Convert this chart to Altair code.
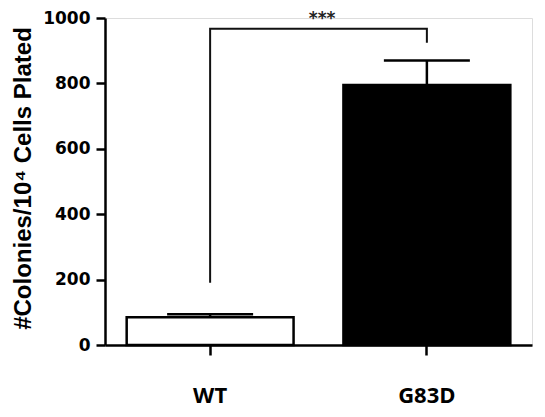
import altair as alt
import pandas as pd

groups = ["WT", "G83D"]
means = [85, 795]
sems = [9, 75]
bar_fill = ["#ffffff", "#000000"]

bracket_groups = ["WT", "WT", "G83D", "G83D"]
bracket_values = [190, 967, 967, 924]
bracket_order = [0, 1, 2, 3]
sig_label = "***"
sig_value = 982

y_ticks = [0, 200, 400, 600, 800, 1000]

df = pd.DataFrame({"group": groups, "mean": means, "sem": sems})
df["upper"] = df["mean"] + df["sem"]
br = pd.DataFrame({"group": bracket_groups, "v": bracket_values, "o": bracket_order})
sig = pd.DataFrame({"group": ["WT"], "v": [sig_value], "t": [sig_label]})

xscale = alt.Scale(domain=groups, paddingInner=0.23, paddingOuter=0.1)
yscale = alt.Scale(domain=[0, 1000], nice=False)

x_enc = alt.X(
    "group:N", sort=groups, scale=xscale, title=None,
    axis=alt.Axis(labelFont="Open Sans", labelFontWeight="bold", labelFontSize=22,
                  labelColor="#000", labelAngle=0, labelPadding=30,
                  tickSize=10, tickWidth=2.5, tickColor="#000",
                  domainWidth=2.5, domainColor="#000", grid=False),
)
y_enc = alt.Y(
    "mean:Q", scale=yscale,
    title="#Colonies/10⁴ Cells Plated",
    axis=alt.Axis(values=y_ticks, format="d", labelFont="DejaVu Sans", labelFontWeight="bold",
                  labelFontSize=17, labelColor="#000", labelPadding=6,
                  tickSize=9, tickWidth=2.5, tickColor="#000",
                  domainWidth=2.5, domainColor="#000", grid=False,
                  titleFont="Liberation Sans", titleFontWeight="bold",
                  titleFontSize=24, titleColor="#000",
                  titleX=-70, titleY=160, titleAngle=-90, titleBaseline="bottom"),
)

bars = alt.Chart(df).mark_bar(stroke="#000", strokeWidth=2.5, opacity=1).encode(
    x=x_enc, y=y_enc,
    color=alt.Color("group:N", scale=alt.Scale(domain=groups, range=bar_fill), legend=None),
)

err = alt.Chart(df).mark_rule(color="#000", strokeWidth=2.5, opacity=1).encode(
    x=alt.X("group:N", sort=groups, scale=xscale),
    y=alt.Y("mean:Q", scale=yscale),
    y2="upper:Q",
)

cap = alt.Chart(df).mark_tick(color="#000", thickness=2.5, size=86, opacity=1).encode(
    x=alt.X("group:N", sort=groups, scale=xscale),
    y=alt.Y("upper:Q", scale=yscale),
)

bracket = alt.Chart(br).mark_line(color="#111", strokeWidth=2).encode(
    x=alt.X("group:N", sort=groups, scale=xscale),
    y=alt.Y("v:Q", scale=yscale),
    order="o:Q",
)

stars = alt.Chart(sig).mark_text(
    font="DejaVu Sans", fontWeight="bold", fontSize=17, color="#222",
    baseline="alphabetic", align="center", dx=112,
).encode(
    x=alt.X("group:N", sort=groups, scale=xscale),
    y=alt.Y("v:Q", scale=yscale),
    text="t:N",
)

chart = alt.layer(bars, err, cap, bracket, stars).properties(
    width=427, height=327,
    padding={"left": 97, "top": 10, "right": 5, "bottom": 64},
    autosize=alt.AutoSizeParams(type="none"),
).configure_view(stroke=None).configure(background="#ffffff")

chart.save("out.html", embed_options={"renderer": "svg", "actions": False})
